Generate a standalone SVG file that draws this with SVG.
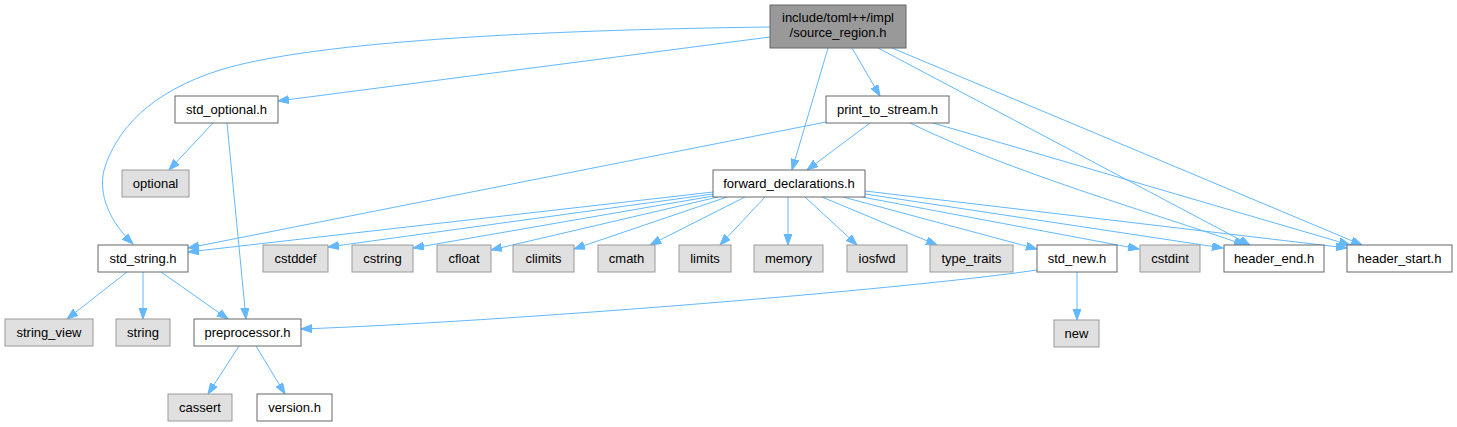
<svg xmlns="http://www.w3.org/2000/svg" width="1457" height="427" viewBox="0 0 1457 427">
<style>
text{font-family:"Liberation Sans",Arial,Helvetica,sans-serif;font-size:13px;text-anchor:middle;fill:#000}
.n rect{fill:#fff;stroke:#666;stroke-width:1}
.g rect{fill:#e0e0e0;stroke:#999;stroke-width:1}
.r rect{fill:#999;stroke:#666;stroke-width:1}
#edges path{fill:none;stroke:#63b8ff;stroke-width:1;marker-end:url(#ah)}
</style>
<defs>
<marker id="ah" markerUnits="userSpaceOnUse" markerWidth="13" markerHeight="10" refX="11" refY="4" orient="auto">
<polygon points="0,0 11,4 0,8" fill="#63b8ff" stroke="#63b8ff" stroke-width="1"/>
</marker>
</defs>
<rect width="1457" height="427" fill="#fff"/>
<g id="edges">
<path d="M770,27 C620,29 330,36 220,70 C150,92 116,130 104,170 C98,195 110,222 133,244"/>
<path d="M770,37 L278,101"/>
<path d="M828,48 L792,170"/>
<path d="M852,48 L880,96"/>
<path d="M878,48 L1250,245"/>
<path d="M892,48 L1362,245"/>
<path d="M826,122 L188,248"/>
<path d="M870,123 L807,170"/>
<path d="M910,123 C1010,172 1150,212 1245,245"/>
<path d="M933,123 L1350,245"/>
<path d="M213,123 L169,170"/>
<path d="M227,123 L246,319"/>
<path d="M713,192 L188,252"/>
<path d="M713,194 L328,247"/>
<path d="M713,196 L413,248"/>
<path d="M718,197 L491,250"/>
<path d="M727,197 L574,249"/>
<path d="M745,197 L650,245"/>
<path d="M765,197 L720,245"/>
<path d="M788,197 L788,245"/>
<path d="M805,197 L857,245"/>
<path d="M822,197 L937,245"/>
<path d="M843,197 L1037,249"/>
<path d="M862,197 L1139,249"/>
<path d="M865,194 L1223,248"/>
<path d="M865,191 L1347,248"/>
<path d="M127,272 L67,319"/>
<path d="M143,272 L143,319"/>
<path d="M161,272 L228,319"/>
<path d="M1037,270 C900,290 500,322 301,329"/>
<path d="M1077,272 L1077,320"/>
<path d="M239,346 L208,394"/>
<path d="M256,346 L285,394"/>
</g>
<g id="root" class="r"><rect x="770" y="5" width="136" height="43"/><text x="838" y="22">include/toml++/impl</text><text x="838" y="37">/source_region.h</text></g>
<g id="print_to_stream" class="n"><rect x="826" y="96" width="123" height="27"/><text x="887.5" y="114">print_to_stream.h</text></g>
<g id="std_optional" class="n"><rect x="175" y="96" width="103" height="27"/><text x="226.5" y="114">std_optional.h</text></g>
<g id="optional" class="g"><rect x="122" y="170" width="67" height="27"/><text x="155.5" y="188">optional</text></g>
<g id="forward_declarations" class="n"><rect x="713" y="170" width="152" height="27"/><text x="789" y="188">forward_declarations.h</text></g>
<g id="std_string" class="n"><rect x="98" y="245" width="90" height="27"/><text x="143" y="263">std_string.h</text></g>
<g id="cstddef" class="g"><rect x="263" y="245" width="65" height="27"/><text x="295.5" y="263">cstddef</text></g>
<g id="cstring" class="g"><rect x="352" y="245" width="61" height="27"/><text x="382.5" y="263">cstring</text></g>
<g id="cfloat" class="g"><rect x="437" y="245" width="54" height="27"/><text x="464" y="263">cfloat</text></g>
<g id="climits" class="g"><rect x="513" y="245" width="61" height="27"/><text x="543.5" y="263">climits</text></g>
<g id="cmath" class="g"><rect x="598" y="245" width="57" height="27"/><text x="626.5" y="263">cmath</text></g>
<g id="limits" class="g"><rect x="679" y="245" width="52" height="27"/><text x="705" y="263">limits</text></g>
<g id="memory" class="g"><rect x="754" y="245" width="69" height="27"/><text x="788.5" y="263">memory</text></g>
<g id="iosfwd" class="g"><rect x="847" y="245" width="60" height="27"/><text x="877" y="263">iosfwd</text></g>
<g id="type_traits" class="g"><rect x="930" y="245" width="83" height="27"/><text x="971.5" y="263">type_traits</text></g>
<g id="std_new" class="n"><rect x="1037" y="245" width="80" height="27"/><text x="1077" y="263">std_new.h</text></g>
<g id="cstdint" class="g"><rect x="1140" y="245" width="60" height="27"/><text x="1170" y="263">cstdint</text></g>
<g id="header_end" class="n"><rect x="1224" y="245" width="100" height="27"/><text x="1274" y="263">header_end.h</text></g>
<g id="header_start" class="n"><rect x="1347" y="245" width="105" height="27"/><text x="1399.5" y="263">header_start.h</text></g>
<g id="string_view" class="g"><rect x="5" y="319" width="88" height="27"/><text x="49" y="337">string_view</text></g>
<g id="string" class="g"><rect x="116" y="319" width="54" height="27"/><text x="143" y="337">string</text></g>
<g id="preprocessor" class="n"><rect x="194" y="319" width="107" height="27"/><text x="247.5" y="337">preprocessor.h</text></g>
<g id="new" class="g"><rect x="1054" y="320" width="45" height="27"/><text x="1076.5" y="338">new</text></g>
<g id="cassert" class="g"><rect x="168" y="394" width="64" height="27"/><text x="200" y="412">cassert</text></g>
<g id="version" class="n"><rect x="257" y="394" width="75" height="27"/><text x="294.5" y="412">version.h</text></g>
</svg>
